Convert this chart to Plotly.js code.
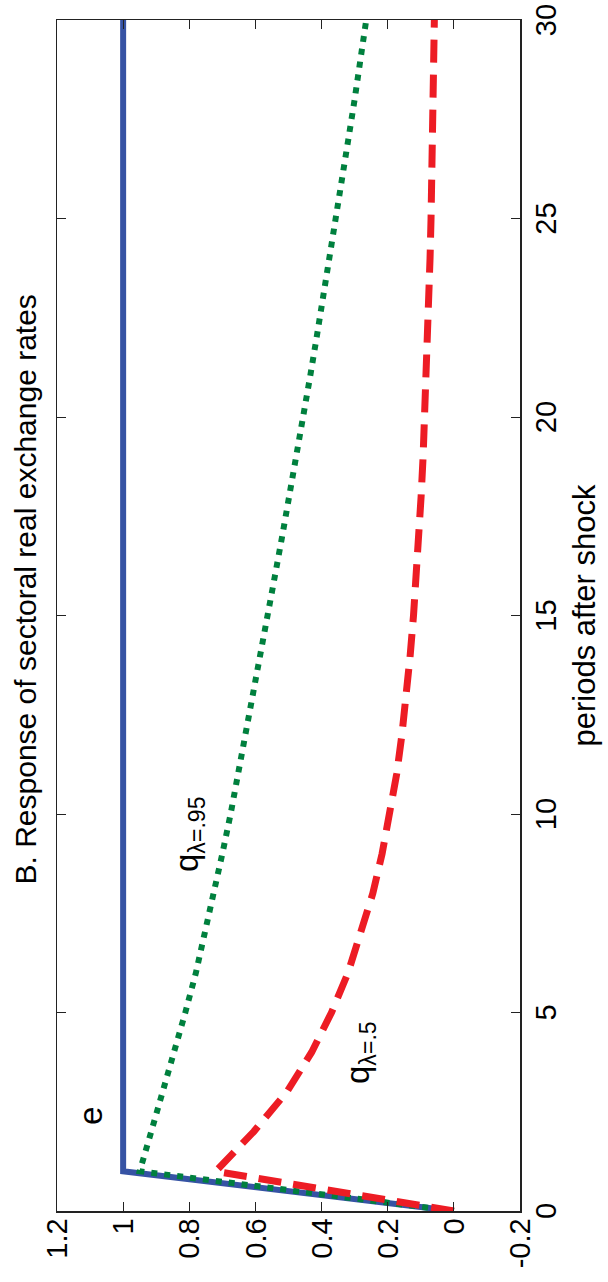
<!DOCTYPE html>
<html>
<head>
<meta charset="utf-8">
<script src="https://cdn.plot.ly/plotly-3.0.1.min.js"></script>
<style>
html,body{margin:0;padding:0;overflow:hidden;background:#fff;width:608px;height:1282px;}
#plot{position:absolute;left:0;top:0;width:1282px;height:608px;transform-origin:0 0;transform:translateY(1282px) rotate(-90deg);}
</style>
</head>
<body>
<div id="plot"></div>
<script>
const periods = [0,1,2,3,4,5,6,7,8,9,10,11,12,13,14,15,16,17,18,19,20,21,22,23,24,25,26,27,28,29,30];
const eSeries = [0,1,1,1,1,1,1,1,1,1,1,1,1,1,1,1,1,1,1,1,1,1,1,1,1,1,1,1,1,1,1];
const q95 = [0,0.95,0.915,0.88,0.845,0.812,0.78,0.752,0.725,0.7,0.675,0.652,0.63,0.607,0.585,0.563,0.541,0.519,0.497,0.476,0.455,0.435,0.415,0.395,0.375,0.355,0.337,0.319,0.3,0.282,0.265];
const q5 = [0,0.72,0.605,0.505,0.43,0.37,0.32,0.28,0.245,0.217,0.193,0.173,0.157,0.143,0.132,0.122,0.113,0.105,0.099,0.093,0.088,0.083,0.079,0.075,0.072,0.069,0.066,0.064,0.062,0.06,0.059];
const xTicks = [0,5,10,15,20,25,30];
const yTicks = [-0.2,0,0.2,0.4,0.6,0.8,1,1.2];
const yTickText = ["-0.2","0","0.2","0.4","0.6","0.8","1","1.2"];
const titleText = "B. Response of sectoral real exchange rates";
const xTitle = "periods after shock";

const traces = [
  {x: periods, y: eSeries, mode:'lines', line:{color:'#3653a4', width:6}, hoverinfo:'skip'},
  {x: periods, y: q95, mode:'lines', line:{color:'#00803e', width:6, dash:'6px,7px'}, hoverinfo:'skip'},
  {x: periods, y: q5, mode:'lines', line:{color:'#ed1c24', width:7, dash:'23px,12px'}, hoverinfo:'skip'}
];
const fontFam = 'Liberation Sans, Arial, Helvetica, sans-serif';
const layout = {
  width:1282, height:608,
  margin:{l:71, r:20, t:57, b:88},
  paper_bgcolor:'#fff', plot_bgcolor:'#fff',
  showlegend:false,
  font:{family:fontFam, size:29, color:'#000'},
  title:{text:titleText, font:{size:30, family:fontFam}, x:0.522, xref:'paper', xanchor:'center', y:1-25/608, yref:'container', yanchor:'middle'},
  xaxis:{range:[0,30], tickvals:xTicks, ticktext:xTicks.map(String), ticks:'inside', ticklen:9, tickcolor:'#222', mirror:'ticks', showline:true, linecolor:'#222', linewidth:1.5, showgrid:false, zeroline:false, tickfont:{size:29},
         title:{text:xTitle, font:{size:31}, standoff:12}},
  yaxis:{range:[-0.2,1.2], tickvals:yTicks, ticktext:yTickText, ticks:'inside', ticklen:9, tickcolor:'#222', mirror:'ticks', showline:true, linecolor:'#222', linewidth:1.5, showgrid:false, zeroline:false, tickfont:{size:29}},
  annotations:[
    {x:2.4, y:1.1, xref:'x', yref:'y', text:'e', showarrow:false, font:{size:33}},
    {x:9.5, y:0.8, xref:'x', yref:'y', text:'q<sub>λ=.95</sub>', showarrow:false, font:{size:33}},
    {x:4.0, y:0.285, xref:'x', yref:'y', text:'q<sub>λ=.5</sub>', showarrow:false, font:{size:33}}
  ]
};
Plotly.newPlot('plot', traces, layout, {staticPlot:true, displayModeBar:false});
</script>
</body>
</html>
